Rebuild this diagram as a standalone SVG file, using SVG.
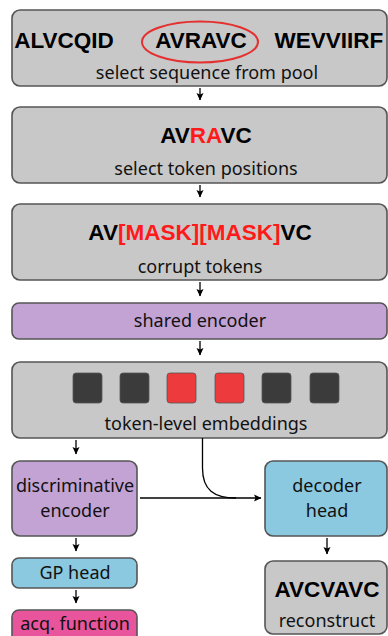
<svg xmlns="http://www.w3.org/2000/svg" width="388" height="636" viewBox="0 0 388 636">
<style>
.box{stroke:#555;stroke-width:1.6}
.gray{fill:#c8c8c8}
.purple{fill:#c3a3d4}
.blue{fill:#8bc9e1}
.pink{fill:#e8559c}
.t{font-family:"Noto Sans","Open Sans",sans-serif;font-size:18px;fill:#111;text-anchor:middle}
.b{font-family:"Liberation Sans",Arial,sans-serif;font-weight:bold;font-size:22.5px;fill:#000;text-anchor:middle}
.red{fill:#ff1a1a}
.edge{stroke:#000;stroke-width:1.3;fill:none}
.sq{stroke:#555;stroke-width:0.8}
</style>
<defs>
<marker id="ah" markerWidth="8" markerHeight="8" refX="7" refY="4" orient="auto" markerUnits="userSpaceOnUse">
<path d="M0,0.5 L7.5,4 L0,7.5 L1.5,4 Z" fill="#000"/>
</marker>
</defs>
<g id="n1">
<rect class="box gray" x="12" y="10" width="375" height="76" rx="8"/>
<text class="b" x="64" y="48">ALVCQID</text>
<text class="b" x="201" y="48">AVRAVC</text>
<text class="b" x="329" y="48">WEVVIIRF</text>
<ellipse cx="200" cy="42" rx="58" ry="20.5" fill="none" stroke="#e53030" stroke-width="2"/>
<text class="t" x="207" y="79">select sequence from pool</text>
</g>
<g id="n2">
<rect class="box gray" x="12" y="107" width="375" height="76" rx="8"/>
<text class="b" x="206" y="143">AV<tspan class="red">RA</tspan>VC</text>
<text class="t" x="206" y="175">select token positions</text>
</g>
<g id="n3">
<rect class="box gray" x="12" y="204" width="375" height="76" rx="8"/>
<text class="b" x="200" y="240">AV<tspan class="red">[MASK][MASK]</tspan>VC</text>
<text class="t" x="200" y="273">corrupt tokens</text>
</g>
<g id="n4">
<rect class="box purple" x="12" y="303" width="375" height="36" rx="7"/>
<text class="t" x="200" y="327">shared encoder</text>
</g>
<g id="n5">
<rect class="box gray" x="12" y="362" width="375" height="76" rx="8"/>
<rect class="sq" x="73" y="373" width="29" height="30" rx="3" fill="#3b3b3b"/>
<rect class="sq" x="120" y="373" width="29" height="30" rx="3" fill="#3b3b3b"/>
<rect class="sq" x="167" y="373" width="29" height="30" rx="3" fill="#ec3a3d"/>
<rect class="sq" x="215" y="373" width="29" height="30" rx="3" fill="#ec3a3d"/>
<rect class="sq" x="262" y="373" width="29" height="30" rx="3" fill="#3b3b3b"/>
<rect class="sq" x="310" y="373" width="29" height="30" rx="3" fill="#3b3b3b"/>
<text class="t" x="206" y="430">token-level embeddings</text>
</g>
<g id="n6">
<rect class="box purple" x="12" y="461" width="125" height="75" rx="8"/>
<text class="t" x="75" y="492">discriminative</text>
<text class="t" x="75" y="517">encoder</text>
</g>
<g id="n7">
<rect class="box blue" x="12" y="558" width="125" height="30" rx="7"/>
<text class="t" x="75" y="579">GP head</text>
</g>
<g id="n8">
<rect class="box pink" x="12" y="610" width="125" height="36" rx="7"/>
<text class="t" x="75" y="630">acq. function</text>
</g>
<g id="n9">
<rect class="box blue" x="265" y="461" width="122" height="75" rx="8"/>
<text class="t" x="327" y="492">decoder</text>
<text class="t" x="327" y="517">head</text>
</g>
<g id="n10">
<rect class="box gray" x="265" y="561" width="122" height="73" rx="8"/>
<text class="b" x="327" y="597">AVCVAVC</text>
<text class="t" x="327" y="627">reconstruct</text>
</g>
<g id="edges">
<line class="edge" x1="200" y1="88" x2="200" y2="100" marker-end="url(#ah)"/>
<line class="edge" x1="200" y1="185" x2="200" y2="197" marker-end="url(#ah)"/>
<line class="edge" x1="200" y1="282" x2="200" y2="296" marker-end="url(#ah)"/>
<line class="edge" x1="200" y1="341" x2="200" y2="355" marker-end="url(#ah)"/>
<line class="edge" x1="76" y1="440" x2="76" y2="454" marker-end="url(#ah)"/>
<line class="edge" x1="76" y1="538" x2="76" y2="551" marker-end="url(#ah)"/>
<line class="edge" x1="76" y1="590" x2="76" y2="603" marker-end="url(#ah)"/>
<line class="edge" x1="327" y1="538" x2="327" y2="554" marker-end="url(#ah)"/>
<line class="edge" x1="140" y1="498" x2="261" y2="498" marker-end="url(#ah)"/>
<path class="edge" d="M202.5,438 L202.5,468 C202.5,490 214,498 236,498"/>
</g>
</svg>
